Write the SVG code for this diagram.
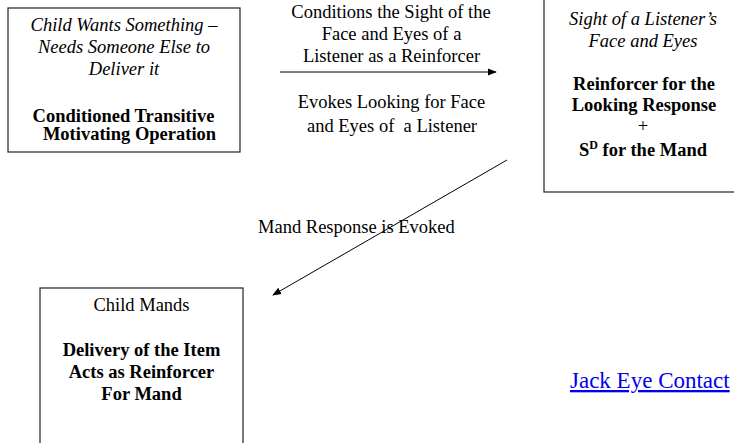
<svg xmlns="http://www.w3.org/2000/svg" width="734" height="443" viewBox="0 0 734 443">
<style>
text{font-family:"Liberation Serif","Times New Roman",serif;font-size:18.5px;fill:#000;text-anchor:middle}
.i{font-style:italic}
.b{font-weight:bold}
.box{fill:#fff;stroke:#222;stroke-width:1.2}
.ln{stroke:#000;stroke-width:1;fill:none}
.link{fill:#00e;font-size:23px;text-anchor:start;text-decoration:underline}
</style>
<defs>
<marker id="ah" viewBox="0 0 10 10" refX="9" refY="5" markerWidth="9" markerHeight="9" markerUnits="userSpaceOnUse" orient="auto">
<path d="M0,1 L10,5 L0,9 z" fill="#000"/>
</marker>
</defs>
<g id="n1">
<rect class="box" x="8" y="8" width="232" height="144"/>
<text class="i" x="124" y="31">Child Wants Something –</text>
<text class="i" x="124" y="53">Needs Someone Else to</text>
<text class="i" x="124" y="75">Deliver it</text>
<text class="b" x="123.5" y="122">Conditioned Transitive</text>
<text class="b" x="129.5" y="140">Motivating Operation</text>
</g>
<g id="n2">
<rect class="box" x="544" y="-2" width="200" height="194"/>
<text class="i" x="643" y="25">Sight of a Listener’s</text>
<text class="i" x="643" y="47">Face and Eyes</text>
<text class="b" x="644" y="90">Reinforcer for the</text>
<text class="b" x="644" y="111">Looking Response</text>
<text x="643" y="132">+</text>
<text class="b" x="643" y="156">S<tspan font-size="12" dy="-7">D</tspan><tspan dy="7"> for the Mand</tspan></text>
</g>
<g id="n3">
<rect class="box" x="40" y="288" width="203" height="170"/>
<text x="141.5" y="311">Child Mands</text>
<text class="b" x="141.5" y="356">Delivery of the Item</text>
<text class="b" x="141.5" y="378">Acts as Reinforcer</text>
<text class="b" x="141.5" y="400">For Mand</text>
</g>
<g id="connectors">
<line class="ln" x1="280" y1="72" x2="496" y2="72" marker-end="url(#ah)"/>
<line class="ln" x1="507" y1="160" x2="273" y2="295" marker-end="url(#ah)"/>
</g>
<g id="labels">
<text x="391" y="18">Conditions the Sight of the</text>
<text x="391.5" y="40">Face and Eyes of a</text>
<text x="391.5" y="62">Listener as a Reinforcer</text>
<text x="391.5" y="108">Evokes Looking for Face</text>
<text x="392" y="132" xml:space="preserve">and Eyes of  a Listener</text>
<text x="258" y="233" style="text-anchor:start">Mand Response is Evoked</text>
<text class="link" x="570" y="388">Jack Eye Contact</text>
</g>
</svg>
